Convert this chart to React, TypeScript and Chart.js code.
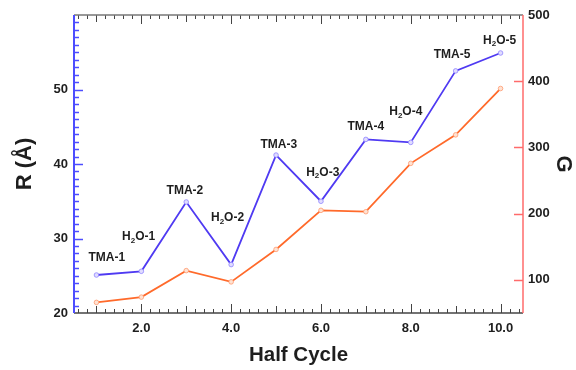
import React, { useEffect, useRef } from "react";
import { Chart, registerables } from "chart.js";

Chart.register(...registerables);

// ---- data ----
const halfCycles = [1, 2, 3, 4, 5, 6, 7, 8, 9, 10];
const rValues = [25.1, 25.6, 34.9, 26.5, 41.2, 35.0, 43.3, 42.9, 52.5, 54.9];
const gValues = [66, 74, 114, 97, 146, 205, 203, 276, 319, 389];
const stepLabels = ["TMA-1", "H₂O-1", "TMA-2", "H₂O-2", "TMA-3", "H₂O-3", "TMA-4", "H₂O-4", "TMA-5", "H₂O-5"];
// label anchors in data units (half cycle, R)
const labelX = [1.23, 1.94, 2.97, 3.92, 5.06, 6.04, 7.0, 7.89, 8.92, 9.98];
const labelR = [27.4, 30.2, 36.4, 32.75, 42.55, 38.85, 45.0, 47.0, 54.7, 56.6];
const xTicks = [2, 4, 6, 8, 10];
const rTicks = [20, 30, 40, 50];
const gTicks = [100, 200, 300, 400, 500];

const FONT = "'Liberation Sans', Arial, sans-serif";
const BLUE = "#4f3af2";
const ORANGE = "#ff6a2b";
const BLUE_AXIS = "#4d4dff";
const RED_AXIS = "#ff6b6b";
const TEXT = "#1e1e1e";

const framePlugin = {
  id: "frameTicks",
  beforeDatasetsDraw(chart: any) {
    const { ctx, chartArea, scales } = chart;
    const { left, right, top, bottom } = chartArea;
    const xs = scales.x;
    const yl = scales.yR;
    const yr = scales.yG;
    ctx.save();
    // top & bottom axes
    ctx.lineWidth = 1;
    ctx.strokeStyle = "#444";
    for (let i = 3; i <= 52; i++) {
      const v = i / 5;
      const isInt = i % 5 === 0;
      const even = isInt && (i / 5) % 2 === 0;
      const len = even ? 9 : isInt ? 7 : 4;
      const px = Math.round(xs.getPixelForValue(v)) + 0.5;
      ctx.beginPath();
      ctx.moveTo(px, bottom);
      ctx.lineTo(px, bottom - len);
      ctx.moveTo(px, top);
      ctx.lineTo(px, top + len);
      ctx.stroke();
    }
    ctx.lineWidth = 1.5;
    ctx.strokeStyle = "#444";
    ctx.beginPath();
    ctx.moveTo(left, bottom);
    ctx.lineTo(right, bottom);
    ctx.stroke();
    ctx.strokeStyle = "#777";
    ctx.beginPath();
    ctx.moveTo(left, top);
    ctx.lineTo(right, top);
    ctx.stroke();
    // left axis
    ctx.strokeStyle = BLUE_AXIS;
    ctx.lineWidth = 2;
    ctx.beginPath();
    ctx.moveTo(left, top);
    ctx.lineTo(left, bottom);
    ctx.stroke();
    ctx.lineWidth = 1.5;
    for (let v = 21; v <= 59; v++) {
      const len = v % 10 === 0 ? 9 : 5;
      const py = Math.round(yl.getPixelForValue(v)) + 0.5;
      ctx.beginPath();
      ctx.moveTo(left, py);
      ctx.lineTo(left + len, py);
      ctx.stroke();
    }
    // right axis
    ctx.strokeStyle = RED_AXIS;
    ctx.lineWidth = 1.5;
    ctx.beginPath();
    ctx.moveTo(right, top);
    ctx.lineTo(right, bottom);
    ctx.stroke();
    for (const v of gTicks) {
      if (v >= 500) continue;
      const py = Math.round(yr.getPixelForValue(v)) + 0.5;
      ctx.beginPath();
      ctx.moveTo(right, py);
      ctx.lineTo(right - 9, py);
      ctx.stroke();
    }
    ctx.restore();
  },
};

const labelPlugin = {
  id: "stepLabels",
  afterDatasetsDraw(chart: any) {
    const { ctx, scales } = chart;
    const xs = scales.x;
    const yl = scales.yR;
    const main = `bold 12px ${FONT}`;
    const sub = `bold 8px ${FONT}`;
    ctx.save();
    ctx.fillStyle = TEXT;
    ctx.textBaseline = "middle";
    ctx.textAlign = "left";
    stepLabels.forEach((lab, i) => {
      const segs: { t: string; s: boolean }[] = [];
      for (const ch of lab) {
        const isSub = ch === "₂";
        const t = isSub ? "2" : ch;
        const last = segs[segs.length - 1];
        if (last && last.s === isSub) last.t += t;
        else segs.push({ t, s: isSub });
      }
      let w = 0;
      segs.forEach((s) => {
        ctx.font = s.s ? sub : main;
        w += ctx.measureText(s.t).width;
      });
      let px = xs.getPixelForValue(labelX[i]) - w / 2;
      const py = yl.getPixelForValue(labelR[i]);
      segs.forEach((s) => {
        ctx.font = s.s ? sub : main;
        ctx.fillText(s.t, px, s.s ? py + 3.5 : py);
        px += ctx.measureText(s.t).width;
      });
    });
    ctx.restore();
  },
};

export default function App() {
  const ref = useRef<HTMLCanvasElement | null>(null);
  useEffect(() => {
    if (!ref.current) return;
    const chart = new Chart(ref.current, {
      type: "line",
      data: {
        datasets: [
          {
            label: "R",
            data: halfCycles.map((x, i) => ({ x, y: rValues[i] })),
            yAxisID: "yR",
            borderColor: BLUE,
            backgroundColor: "#d6d0ff",
            borderWidth: 1.8,
            pointRadius: 2.3,
            pointBorderWidth: 0.8,
            pointBackgroundColor: "#e0dcff",
            pointBorderColor: "#8f84ff",
            tension: 0,
          },
          {
            label: "G",
            data: halfCycles.map((x, i) => ({ x, y: gValues[i] })),
            yAxisID: "yG",
            borderColor: ORANGE,
            backgroundColor: "#ffd8c4",
            borderWidth: 1.8,
            pointRadius: 2.3,
            pointBorderWidth: 0.8,
            pointBackgroundColor: "#ffe2d2",
            pointBorderColor: "#ff9a70",
            tension: 0,
          },
        ],
      },
      options: {
        responsive: false,
        animation: false,
        layout: { padding: { top: 15, left: 0, right: 0, bottom: 0 } },
        plugins: { legend: { display: false }, tooltip: { enabled: false } },
        scales: {
          x: {
            type: "linear",
            min: 0.5,
            max: 10.5,
            grid: { display: false, drawTicks: false },
            border: { display: false },
            afterBuildTicks: (s: any) => {
              s.ticks = xTicks.map((v) => ({ value: v }));
            },
            afterFit: (s: any) => {
              s.height = 57;
            },
            ticks: {
              padding: 8,
              color: TEXT,
              font: { family: FONT, size: 13, weight: "bold" },
              callback: (v: any) => Number(v).toFixed(1),
            },
            title: {
              display: true,
              text: "Half Cycle",
              color: TEXT,
              font: { family: FONT, size: 20.5, weight: "bold" },
              padding: { top: 0, bottom: 2 },
            },
          },
          yR: {
            type: "linear",
            position: "left",
            min: 20,
            max: 60,
            grid: { display: false, drawTicks: false },
            border: { display: false },
            afterBuildTicks: (s: any) => {
              s.ticks = rTicks.map((v) => ({ value: v }));
            },
            afterFit: (s: any) => {
              s.width = 74;
            },
            ticks: {
              padding: 6,
              color: TEXT,
              font: { family: FONT, size: 13, weight: "bold" },
            },
            title: {
              display: true,
              text: "R (Å)",
              color: TEXT,
              font: { family: FONT, size: 22, weight: "bold" },
              padding: { top: 12, bottom: 0 },
            },
          },
          yG: {
            type: "linear",
            position: "right",
            min: 50,
            max: 500,
            grid: { display: false, drawTicks: false },
            border: { display: false },
            afterBuildTicks: (s: any) => {
              s.ticks = gTicks.map((v) => ({ value: v }));
            },
            afterFit: (s: any) => {
              s.width = 53;
            },
            ticks: {
              padding: 5,
              color: TEXT,
              font: { family: FONT, size: 13, weight: "bold" },
            },
            title: {
              display: true,
              text: "G",
              color: TEXT,
              font: { family: FONT, size: 22, weight: "bold" },
              padding: { top: 0, bottom: 0 },
            },
          },
        },
      } as any,
      plugins: [framePlugin, labelPlugin],
    });
    return () => chart.destroy();
  }, []);
  return (
    <div style={{ position: "fixed", left: 0, top: 0, width: 576, height: 370, background: "#fff" }}>
      <canvas ref={ref} width={576} height={370} />
    </div>
  );
}
